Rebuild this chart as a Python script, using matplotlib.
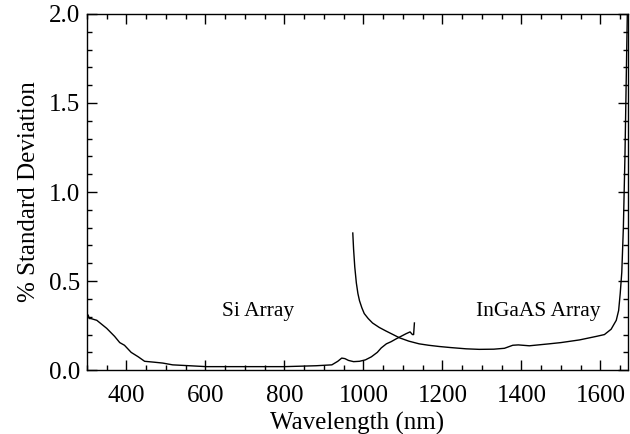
import matplotlib as mpl
import matplotlib.pyplot as plt
from matplotlib.ticker import MultipleLocator

mpl.rcParams['font.family'] = 'Liberation Serif'
mpl.rcParams['axes.linewidth'] = 1.0

# Si array curve (wavelength nm, % std dev)
si_wl = [300, 303, 306, 310, 325, 350, 370, 383, 395, 412, 430, 446, 470, 492,
         517, 560, 602, 700, 800, 880, 920, 935, 945, 953, 962, 975, 990, 1005,
         1020, 1035, 1045, 1058, 1070, 1082, 1095, 1108, 1118, 1124, 1127, 1129]
si_sd = [0.28, 0.31, 0.29, 0.29, 0.28, 0.235, 0.19, 0.155, 0.14, 0.10, 0.075,
         0.05, 0.045, 0.04, 0.03, 0.025, 0.02, 0.02, 0.02, 0.025, 0.03, 0.05,
         0.068, 0.065, 0.055, 0.048, 0.05, 0.058, 0.075, 0.10, 0.125, 0.148,
         0.16, 0.175, 0.19, 0.205, 0.215, 0.2, 0.2, 0.265]

# InGaAs array curve
ig_wl = [973, 975, 978, 982, 986, 990, 996, 1002, 1012, 1023, 1040, 1057,
         1075, 1091, 1115, 1141, 1165, 1192, 1221, 1260, 1293, 1330, 1357,
         1378, 1392, 1420, 1470, 1500, 1547, 1590, 1610, 1627, 1640, 1646,
         1650, 1654, 1658, 1662, 1665, 1668]
ig_sd = [0.77, 0.68, 0.58, 0.49, 0.43, 0.39, 0.35, 0.318, 0.29, 0.265, 0.24,
         0.22, 0.2, 0.182, 0.163, 0.148, 0.14, 0.133, 0.127, 0.12, 0.117,
         0.118, 0.123, 0.14, 0.142, 0.137, 0.148, 0.155, 0.17, 0.19, 0.2, 0.23,
         0.28, 0.335, 0.43, 0.55, 0.8, 1.2, 1.6, 2.0]

fig = plt.figure(figsize=(6.3, 4.34), dpi=100)
ax = fig.add_axes([0.138, 0.147, 0.859, 0.821])

ax.plot(si_wl, si_sd, color='black', lw=1.0)
ax.plot(ig_wl, ig_sd, color='black', lw=1.0)

ax.text(732, 0.33, 'Si Array', fontsize=15.5, ha='center', va='center')
ax.text(1443, 0.33, 'InGaAS Array', fontsize=15.5, ha='center', va='center')

ax.set_xlim(300, 1670)
ax.set_ylim(0, 2.0)
ax.xaxis.set_major_locator(MultipleLocator(200))
ax.xaxis.set_minor_locator(MultipleLocator(50))
ax.yaxis.set_major_locator(MultipleLocator(0.5))
ax.yaxis.set_minor_locator(MultipleLocator(0.1))
ax.yaxis.set_major_formatter(mpl.ticker.FormatStrFormatter('%.1f'))

ax.tick_params(which='both', direction='in', top=True, right=True,
               labelsize=18, width=1.0)
ax.tick_params(which='major', length=7)
ax.tick_params(which='major', axis='x', pad=11)
ax.tick_params(which='major', axis='y', pad=5)
ax.tick_params(which='minor', length=3.5)

ax.set_xlabel('Wavelength (nm)', fontsize=18, labelpad=3)
ax.set_ylabel('% Standard Deviation', fontsize=18, labelpad=6)

fig.savefig('out.png', dpi=100)
